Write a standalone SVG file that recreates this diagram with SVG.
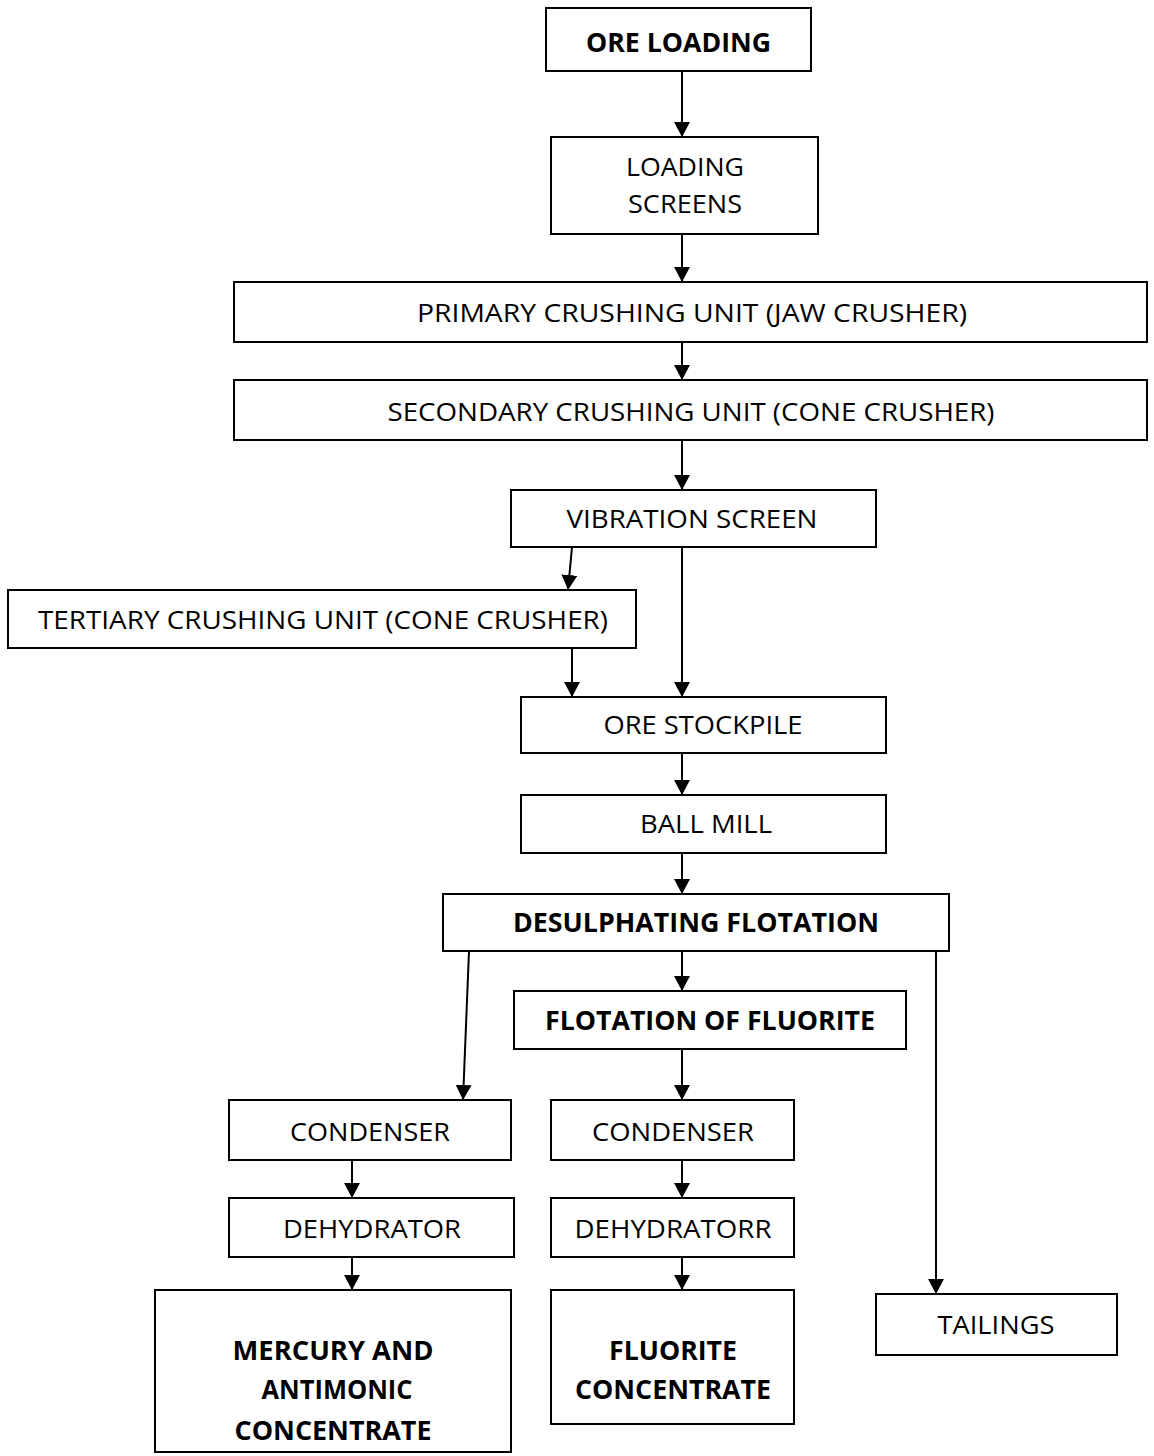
<svg xmlns="http://www.w3.org/2000/svg" width="1154" height="1456" viewBox="0 0 1154 1456">
<defs>
<style>
.box{fill:#fff;stroke:#000;stroke-width:2}
.t{font-family:"Open Sans","Noto Sans",sans-serif;font-size:26px;fill:#000;text-anchor:middle}
.b{font-weight:bold}
.c line{stroke:#000;stroke-width:2;marker-end:url(#ah)}
</style>
<marker id="ah" markerUnits="userSpaceOnUse" markerWidth="15" markerHeight="16" refX="15" refY="8" orient="auto">
<path d="M0,0 L15,8 L0,16 z" fill="#000"/>
</marker>
</defs>
<rect width="1154" height="1456" fill="#fff"/>
<g id="connectors" class="c">
<line x1="682" y1="71" x2="682" y2="137"/>
<line x1="682" y1="234" x2="682" y2="282"/>
<line x1="682" y1="342" x2="682" y2="380"/>
<line x1="682" y1="440" x2="682" y2="490"/>
<line x1="572" y1="547" x2="568" y2="590"/>
<line x1="682" y1="547" x2="682" y2="697"/>
<line x1="572" y1="648" x2="572" y2="697"/>
<line x1="682" y1="753" x2="682" y2="795"/>
<line x1="682" y1="853" x2="682" y2="894"/>
<line x1="682" y1="951" x2="682" y2="991"/>
<line x1="469" y1="951" x2="463" y2="1100"/>
<line x1="936" y1="951" x2="936" y2="1294"/>
<line x1="352" y1="1160" x2="352" y2="1198"/>
<line x1="682" y1="1049" x2="682" y2="1100"/>
<line x1="682" y1="1160" x2="682" y2="1198"/>
<line x1="352" y1="1257" x2="352" y2="1290"/>
<line x1="682" y1="1257" x2="682" y2="1290"/>
</g>
<g id="ore-loading"><rect class="box" x="546" y="8" width="265" height="63"/><text class="t b" x="678.5" y="52" textLength="185" lengthAdjust="spacingAndGlyphs">ORE LOADING</text></g>
<g id="loading-screens"><rect class="box" x="551" y="137" width="267" height="97"/><text class="t" x="685" y="176" textLength="118" lengthAdjust="spacingAndGlyphs">LOADING</text><text class="t" x="685" y="213" textLength="114" lengthAdjust="spacingAndGlyphs">SCREENS</text></g>
<g id="primary"><rect class="box" x="234" y="282" width="913" height="60"/><text class="t" x="692" y="322" textLength="550" lengthAdjust="spacingAndGlyphs">PRIMARY CRUSHING UNIT (JAW CRUSHER)</text></g>
<g id="secondary"><rect class="box" x="234" y="380" width="913" height="60"/><text class="t" x="691" y="421" textLength="607" lengthAdjust="spacingAndGlyphs">SECONDARY CRUSHING UNIT (CONE CRUSHER)</text></g>
<g id="vibration-screen"><rect class="box" x="511" y="490" width="365" height="57"/><text class="t" x="692" y="528" textLength="251" lengthAdjust="spacingAndGlyphs">VIBRATION SCREEN</text></g>
<g id="tertiary"><rect class="box" x="8" y="590" width="628" height="58"/><text class="t" x="323" y="629" textLength="570" lengthAdjust="spacingAndGlyphs">TERTIARY CRUSHING UNIT (CONE CRUSHER)</text></g>
<g id="ore-stockpile"><rect class="box" x="521" y="697" width="365" height="56"/><text class="t" x="703" y="734" textLength="199" lengthAdjust="spacingAndGlyphs">ORE STOCKPILE</text></g>
<g id="ball-mill"><rect class="box" x="521" y="795" width="365" height="58"/><text class="t" x="706" y="833" textLength="132" lengthAdjust="spacingAndGlyphs">BALL MILL</text></g>
<g id="desulphating"><rect class="box" x="443" y="894" width="506" height="57"/><text class="t b" x="696" y="932" textLength="366" lengthAdjust="spacingAndGlyphs">DESULPHATING FLOTATION</text></g>
<g id="flotation-fluorite"><rect class="box" x="514" y="991" width="392" height="58"/><text class="t b" x="710" y="1030" textLength="330" lengthAdjust="spacingAndGlyphs">FLOTATION OF FLUORITE</text></g>
<g id="condenser-1"><rect class="box" x="229" y="1100" width="282" height="60"/><text class="t" x="370" y="1141" textLength="160" lengthAdjust="spacingAndGlyphs">CONDENSER</text></g>
<g id="condenser-2"><rect class="box" x="551" y="1100" width="243" height="60"/><text class="t" x="673" y="1141" textLength="162" lengthAdjust="spacingAndGlyphs">CONDENSER</text></g>
<g id="dehydrator-1"><rect class="box" x="229" y="1198" width="285" height="59"/><text class="t" x="372" y="1238" textLength="178" lengthAdjust="spacingAndGlyphs">DEHYDRATOR</text></g>
<g id="dehydrator-2"><rect class="box" x="551" y="1198" width="243" height="59"/><text class="t" x="673" y="1238" textLength="197" lengthAdjust="spacingAndGlyphs">DEHYDRATORR</text></g>
<g id="mercury"><rect class="box" x="155" y="1290" width="356" height="162"/><text class="t b" x="333" y="1360" textLength="201" lengthAdjust="spacingAndGlyphs">MERCURY AND</text><text class="t b" x="337" y="1399" textLength="151" lengthAdjust="spacingAndGlyphs">ANTIMONIC</text><text class="t b" x="333" y="1440" textLength="197" lengthAdjust="spacingAndGlyphs">CONCENTRATE</text></g>
<g id="fluorite-concentrate"><rect class="box" x="551" y="1290" width="243" height="134"/><text class="t b" x="673" y="1360" textLength="128" lengthAdjust="spacingAndGlyphs">FLUORITE</text><text class="t b" x="673" y="1399" textLength="196" lengthAdjust="spacingAndGlyphs">CONCENTRATE</text></g>
<g id="tailings"><rect class="box" x="876" y="1294" width="241" height="61"/><text class="t" x="996" y="1334" textLength="117" lengthAdjust="spacingAndGlyphs">TAILINGS</text></g>
</svg>
